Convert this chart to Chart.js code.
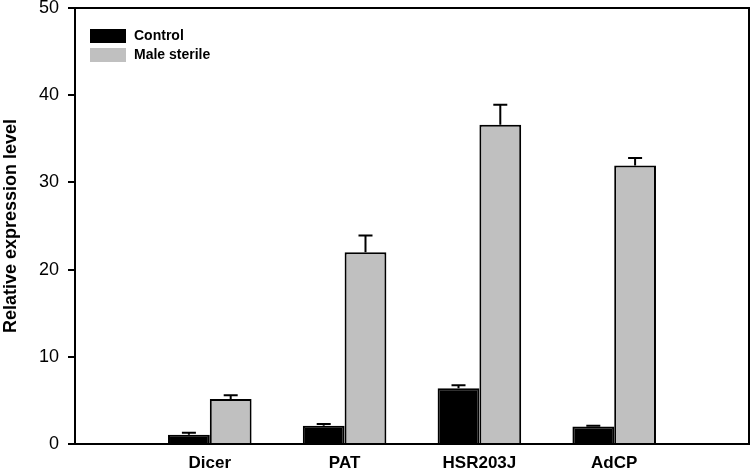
<!DOCTYPE html>
<html>
<head>
<meta charset="utf-8">
<script src="https://cdn.jsdelivr.net/npm/chart.js@4.4.1/dist/chart.umd.min.js"></script>
<style>
  html, body { margin: 0; padding: 0; background: #fff; }
  #wrap { width: 751px; height: 473px; }
</style>
</head>
<body>
<div id="wrap"><canvas id="chart"></canvas></div>
<script>
// data
const categories = ["Dicer", "PAT", "HSR203J", "AdCP"];
const controlValues = [1.05, 2.1, 6.4, 2.0];
const controlErrors = [0.25, 0.2, 0.35, 0.1];
const sterileValues = [5.15, 22.0, 36.6, 31.95];
const sterileErrors = [0.45, 1.9, 2.3, 0.85];
const yTicks = [0, 10, 20, 30, 40, 50];

// empty slot on each side so the groups sit at 1..4 of a 0..5 axis
const pad = (arr) => [null, ...arr, null];
const labels = ["", ...categories, ""];
const errors = [pad(controlErrors), pad(sterileErrors)];

const errorBarPlugin = {
  id: "errorBars",
  afterDatasetsDraw(chart) {
    const ctx = chart.ctx;
    const yScale = chart.scales.y;
    ctx.save();
    ctx.strokeStyle = "#000";
    ctx.lineWidth = 2;
    chart.data.datasets.forEach((ds, i) => {
      const meta = chart.getDatasetMeta(i);
      meta.data.forEach((bar, j) => {
        const v = ds.data[j];
        const e = errors[i][j];
        if (v == null || e == null) return;
        const yTop = yScale.getPixelForValue(v + e);
        ctx.beginPath();
        ctx.moveTo(bar.x, bar.y);
        ctx.lineTo(bar.x, yTop);
        ctx.moveTo(bar.x - 7, yTop);
        ctx.lineTo(bar.x + 7, yTop);
        ctx.stroke();
      });
    });
    ctx.restore();
  }
};

const framePlugin = {
  id: "frame",
  afterDraw(chart) {
    const { left, right, top, bottom } = chart.chartArea;
    const ctx = chart.ctx;
    ctx.save();
    ctx.strokeStyle = "#000";
    ctx.lineWidth = 2;
    ctx.beginPath();
    ctx.moveTo(left, top);
    ctx.lineTo(right, top);
    ctx.lineTo(right, bottom);
    ctx.stroke();
    ctx.restore();
  }
};

// legend inside the plot, top left
const insideLegendPlugin = {
  id: "insideLegend",
  afterDraw(chart) {
    const ctx = chart.ctx;
    const x0 = chart.chartArea.left + 15;
    let y0 = chart.chartArea.top + 21;
    ctx.save();
    ctx.font = "bold 14px 'Liberation Sans', Arial, sans-serif";
    ctx.textBaseline = "middle";
    chart.data.datasets.forEach((ds) => {
      ctx.fillStyle = ds.backgroundColor;
      ctx.fillRect(x0, y0, 36, 14);
      ctx.fillStyle = "#000";
      ctx.fillText(ds.label, x0 + 44, y0 + 7);
      y0 += 19;
    });
    ctx.restore();
  }
};

new Chart(document.getElementById("chart"), {
  type: "bar",
  data: {
    labels: labels,
    datasets: [
      {
        label: "Control",
        data: pad(controlValues),
        backgroundColor: "#000000",
        borderColor: "#000000",
        borderWidth: 2,
        borderSkipped: "bottom",
      },
      {
        label: "Male sterile",
        data: pad(sterileValues),
        backgroundColor: "#c0c0c0",
        borderColor: "#000000",
        borderWidth: 2,
        borderSkipped: "bottom",
      },
    ],
  },
  options: {
    responsive: true,
    maintainAspectRatio: false,
    animation: false,
    categoryPercentage: 0.62,
    barPercentage: 1.0,
    layout: { padding: { top: 0, right: 2, left: 0, bottom: 0 } },
    plugins: {
      legend: { display: false },
      tooltip: { enabled: false },
    },
    scales: {
      x: {
        offset: false,
        grid: { display: false, drawTicks: false },
        border: { display: true, color: "#000", width: 2 },
        ticks: {
          autoSkip: false,
          maxRotation: 0,
          padding: 9,
          color: "#000",
          font: { family: "'Liberation Sans', Arial, sans-serif", size: 17, weight: "bold" },
        },
        afterFit(scale) {
          scale.height = 29;
          scale.paddingLeft = 0;
          scale.paddingRight = 0;
        },
      },
      y: {
        min: 0,
        max: 50,
        afterBuildTicks(scale) { scale.ticks = yTicks.map((v) => ({ value: v })); },
        grid: { drawOnChartArea: false, drawTicks: true, tickLength: 7, color: "#000", lineWidth: 2 },
        border: { display: true, color: "#000", width: 2 },
        ticks: {
          padding: 9,
          color: "#000",
          font: { family: "'Liberation Sans', Arial, sans-serif", size: 18 },
        },
        title: {
          display: true,
          text: "Relative expression level",
          color: "#000",
          padding: { top: 0, bottom: 0 },
          font: { family: "'Liberation Sans', Arial, sans-serif", size: 18, weight: "bold" },
        },
        afterFit(scale) {
          scale.width = 75;
          scale.paddingTop = 8;
          scale.paddingBottom = 0;
        },
      },
    },
  },
  plugins: [errorBarPlugin, framePlugin, insideLegendPlugin],
});
</script>
</body>
</html>
